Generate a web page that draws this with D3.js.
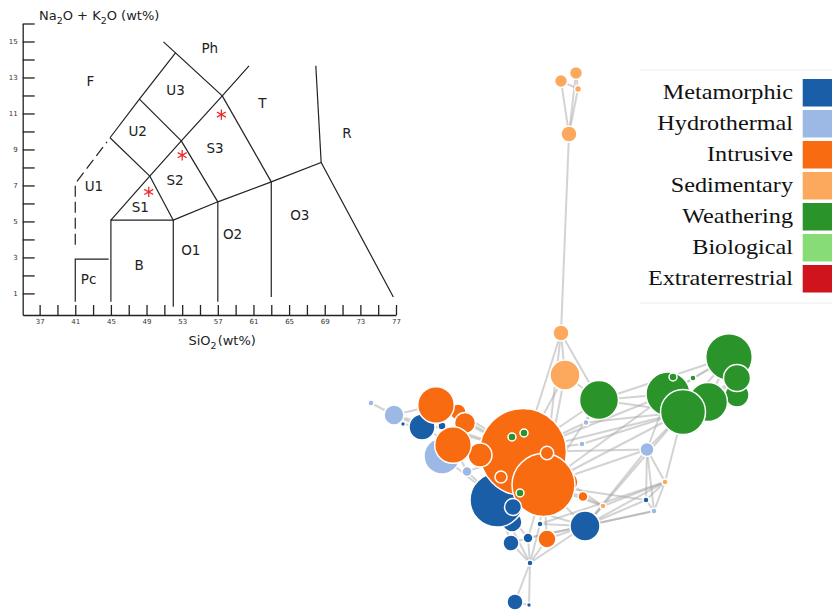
<!DOCTYPE html>
<html><head><meta charset="utf-8">
<script src="https://cdn.jsdelivr.net/npm/d3@7"></script>
<style>body{margin:0;background:#fff} svg{display:block}</style>
</head><body>
<svg id="c" width="832" height="612"></svg>
<script>
// ---------- TAS diagram data ----------
const tasXTicks = d3.range(37, 78, 2);
const tasXLabels = [37, 41, 45, 49, 53, 57, 61, 65, 69, 73, 77];
const tasYTicks = d3.range(1, 17);
const tasYLabels = [1, 3, 5, 7, 9, 11, 13, 15];
const tasBoundaries = [
  [[41, 0.53], [41, 2.9], [44.75, 2.9]],
  [[45, 0.53], [45, 5.07], [52, 5.07], [52, 0.26]],
  [[52, 5.07], [57, 6.09], [63, 7.2], [68.6, 8.28], [76.7, 0.8]],
  [[57, 6.09], [57, 0.53]],
  [[63, 7.2], [63, 0.8]],
  [[68.6, 8.28], [68.0, 13.65]],
  [[45, 5.07], [49.36, 7.52], [52.9, 9.48], [57.5, 11.98], [60.5, 13.65]],
  [[49.36, 7.52], [52, 5.07]],
  [[52.9, 9.48], [57, 6.09]],
  [[57.5, 11.98], [63, 7.2]],
  [[44.9, 9.65], [48.2, 11.8], [52.25, 14.37], [57.5, 11.98]],
  [[44.9, 9.65], [49.36, 7.52]],
  [[48.2, 11.8], [52.9, 9.48]],
  [[52.25, 14.37], [50.9, 14.98]]
];
const tasDashed = [[41, 3.7], [41, 7.1], [44.56, 9.42]];
const tasRegionNames = ["Ph", "F", "U3", "T", "U2", "R", "S3", "U1", "S2", "S1", "O3", "O2", "O1", "B", "Pc"];
const tasRegionSiO2 = [56.1, 42.7, 52.25, 62.0, 48.0, 71.5, 56.7, 43.1, 52.2, 48.3, 66.2, 58.65, 53.97, 48.16, 42.5];
const tasRegionAlk = [14.64, 12.8, 12.33, 11.6, 10.0, 9.9, 9.1, 6.96, 7.33, 5.81, 5.35, 4.28, 3.44, 2.57, 1.78];
const sampleSiO2 = [57.4, 53.0, 49.25];
const sampleAlk = [10.94, 8.68, 6.64];

// ---------- legend ----------
const rockTypes = ["Metamorphic", "Hydrothermal", "Intrusive", "Sedimentary", "Weathering", "Biological", "Extraterrestrial"];
const rockColors = ["#1b5ea8", "#9cb9e6", "#f96b10", "#fca95e", "#2a942a", "#88dc78", "#d0141d"];

// ---------- network (layout coordinates, group index, weight) ----------
const nodeIds = ["s0","s1","s2","s3","s4","s5","h45","h44","m32","m31","m30","h46","m34","m33","o20","o19","o21","o24","o15","o23","o22","h47","o16","o17","o18","m35","w27","w28","w29","o25","o26","m36","m37","m38","m39","m40","m41","m42","m43","h48","h49","h50","h51","s52","s53","w6","w9","w10","w11","w7","w8","w12","w13","w14"];
const nodeGroup = [3,3,3,3,3,3,1,1,0,0,0,1,0,0,2,2,2,2,2,2,2,1,2,2,2,0,4,4,4,2,2,0,0,0,0,0,0,0,0,1,1,1,1,3,3,4,4,4,4,4,4,4,4,4];
const nodeX = [209,201,216,218,201,205,11,34,43,82,62,82,152,137,98,76,105,208,163,120,93,107,183.5,187,141,153,152,164,160,223,187,225,168,151,180,170,155,169,286,226,222,287,294,243,305,239,377,369,377,308,348,323,313,333];
const nodeY = [74,21,13,29,273,315,343,355,364,366,367,396,462,440,352,345,363,422,392,395,385,411.5,425,393,417,447,377,373,433,436.5,479,466,478,483,464,503,542,545,440,362.5,384,389.5,451,446,422,340,335,297,318,334,342,352,317,318];
const nodeWeight = [64,42,42,12,64,225,9,100,6,16,169,324,100,729,64,335,110,100,1892,144,335,25,992,45,36,72,16,16,16,25,81,225,25,64,9,9,64,6,9,9,9,49,9,9,9,380,144,543,182,484,380,506,16,9];
const linkPairs = [
 "s0-s1","s0-s2","s0-s3","s1-s3","s2-s3","s0-s4",
 "s4-s5","s4-o15","s4-w6","s4-o16","s5-o15","s5-w6","s5-o16",
 "w6-w7","w6-w12","w6-w10","w6-o15","w6-o16","w6-h48",
 "w7-w10","w7-w12","w7-w8","w8-w10","w8-w11","w12-w10","w12-w11","w9-w10","w13-w7","w14-w10","w14-w7",
 "o15-w7","o15-w12","o16-w12","o16-w7","o15-h48","o15-h49","h48-w12","h49-w12",
 "h50-w12","h50-w7","h50-o15","h50-o16","h50-s53","h50-m43","h50-h51","h50-m36",
 "s53-w12","s53-m43","s53-m36","s53-s52","s53-h51","s53-m39",
 "m43-h51","m43-m36","m43-o16","h51-m36","h51-m37",
 "s52-m36","s52-o24","s52-o16","s52-o25",
 "m36-o16","m36-m33","m36-o26","m36-m37","m36-m40","m36-m39","m36-w12",
 "o25-o16","o24-o16","o24-o15",
 "m40-m38","m40-m37","m40-o26","m40-m41","m40-m42","m40-m33","m40-m39","m41-m42",
 "m37-m33","m38-m33","o26-o16","m39-o16","m37-o16","m38-m37",
 "h45-h44","h44-o19","h44-m30","h44-o15","m32-m30","m30-o19","m30-o22","m31-o19","m31-o15",
 "o19-o15","o20-o15","o21-o15","o22-o15","o23-o15","h46-o15","h46-m33","o22-h47","h47-o15","h47-m33",
 "o19-o21","o19-o22","o21-o22",
 "m33-o15","m33-o16","m34-m33","m35-o16","m35-m33",
 "o18-o15","o17-o15","o17-o16","w27-o15","w28-o15","w29-o16","w29-o15"
];

// ---------- drawing ----------
const svg = d3.select("#c");
const ink = "#222";

// TAS scales
const tx = d3.scaleLinear().domain([35.1, 77]).range([22.7, 396]);
const ty = d3.scaleLinear().domain([-0.2, 16]).range([315, 23.5]);

const tas = svg.append("g");
const xAxis = tas.append("g").attr("transform", `translate(0,${ty(-0.2)})`)
  .call(d3.axisBottom(tx).tickValues(tasXTicks).tickSize(-10).tickSizeOuter(0).tickPadding(4)
    .tickFormat(d => tasXLabels.includes(d) ? d : ""));
const yAxis = tas.append("g").attr("transform", `translate(${tx(35.1)},0)`)
  .call(d3.axisLeft(ty).tickValues(tasYTicks).tickSize(-12).tickSizeOuter(0).tickPadding(5)
    .tickFormat(d => tasYLabels.includes(d) ? d : ""));
[xAxis, yAxis].forEach(a => {
  a.selectAll("path,line").attr("stroke", ink).attr("stroke-width", 1.3);
  a.selectAll("text").attr("font-family", "DejaVu Sans").attr("font-size", 7).attr("fill", "#333");
});

const line = d3.line().x(d => tx(d[0])).y(d => ty(d[1]));
tas.selectAll("path.bd").data(tasBoundaries).join("path").attr("class", "bd")
  .attr("d", line).attr("fill", "none").attr("stroke", ink).attr("stroke-width", 1.2);
tas.append("path").attr("d", line(tasDashed)).attr("fill", "none").attr("stroke", ink)
  .attr("stroke-width", 1.2).attr("stroke-dasharray", "11,5");

tas.selectAll("text.rg").data(tasRegionNames).join("text").attr("class", "rg")
  .attr("x", (d, i) => tx(tasRegionSiO2[i])).attr("y", (d, i) => ty(tasRegionAlk[i]))
  .attr("text-anchor", "middle").attr("dominant-baseline", "central")
  .attr("font-family", "DejaVu Sans").attr("font-size", 13.5).attr("fill", ink).text(d => d);

tas.selectAll("path.sm").data(sampleSiO2).join("path").attr("class", "sm")
  .attr("transform", (d, i) => `translate(${tx(d)},${ty(sampleAlk[i])})`)
  .attr("d", d3.symbol(d3.symbolAsterisk, 75)).attr("fill", "none")
  .attr("stroke", "#ee2a2a").attr("stroke-width", 1.3);

// axis titles
const yt = tas.append("text").attr("x", 39).attr("y", 19.5).attr("font-family", "DejaVu Sans")
  .attr("font-size", 13).attr("fill", ink);
yt.append("tspan").text("Na");
yt.append("tspan").attr("font-size", 9.5).attr("dy", 4).text("2");
yt.append("tspan").attr("dy", -4).text("O + K");
yt.append("tspan").attr("font-size", 9.5).attr("dy", 4).text("2");
yt.append("tspan").attr("dy", -4).text("O (wt%)");
const xt = tas.append("text").attr("x", 188.5).attr("y", 345).attr("font-family", "DejaVu Sans")
  .attr("font-size", 13).attr("fill", ink);
xt.append("tspan").text("SiO");
xt.append("tspan").attr("font-size", 9.5).attr("dy", 4).text("2");
xt.append("tspan").attr("dy", -4).attr("dx", 1).text("(wt%)");

// Network
const gx = d3.scaleLinear().domain([0, 400]).range([360, 760]);
const gy = d3.scaleLinear().domain([0, 560]).range([60, 620]);
const gr = d3.scaleSqrt().domain([0, 1892]).range([0, 43.5]);
const color = d3.scaleOrdinal().domain(d3.range(rockTypes.length)).range(rockColors);
const nodes = nodeIds.map((id, i) => ({id, g: nodeGroup[i], x: nodeX[i], y: nodeY[i], w: nodeWeight[i]}));
const byId = new Map(nodes.map(n => [n.id, n]));
const links = linkPairs.map(p => { const [a, b] = p.split("-"); return {s: byId.get(a), t: byId.get(b)}; });

const net = svg.append("g");
net.append("g").selectAll("line").data(links).join("line")
  .attr("x1", d => gx(d.s.x)).attr("y1", d => gy(d.s.y))
  .attr("x2", d => gx(d.t.x)).attr("y2", d => gy(d.t.y))
  .attr("stroke", "#a8a8a8").attr("stroke-opacity", 0.5).attr("stroke-width", 2);
net.append("g").selectAll("circle").data(nodes).join("circle")
  .attr("cx", d => gx(d.x)).attr("cy", d => gy(d.y)).attr("r", d => gr(d.w))
  .attr("fill", d => color(d.g)).attr("stroke", "#fff").attr("stroke-width", 1.5);

// Legend
const lg = svg.append("g");
lg.append("line").attr("x1", 640).attr("x2", 832).attr("y1", 70).attr("y2", 70).attr("stroke", "#ececec");
lg.append("line").attr("x1", 640).attr("x2", 832).attr("y1", 303).attr("y2", 303).attr("stroke", "#ececec");
const li = lg.selectAll("g.li").data(rockTypes).join("g").attr("class", "li")
  .attr("transform", (d, i) => `translate(0,${79 + i * 31})`);
li.append("rect").attr("x", 802.7).attr("y", 0).attr("width", 30).attr("height", 27.5)
  .attr("fill", (d, i) => rockColors[i]);
li.append("text").attr("transform", "translate(793,19.8) scale(1.1,1)")
  .attr("text-anchor", "end").attr("font-family", "Liberation Serif").attr("font-size", 22)
  .attr("fill", "#111").text(d => d);
</script>
</body></html>
